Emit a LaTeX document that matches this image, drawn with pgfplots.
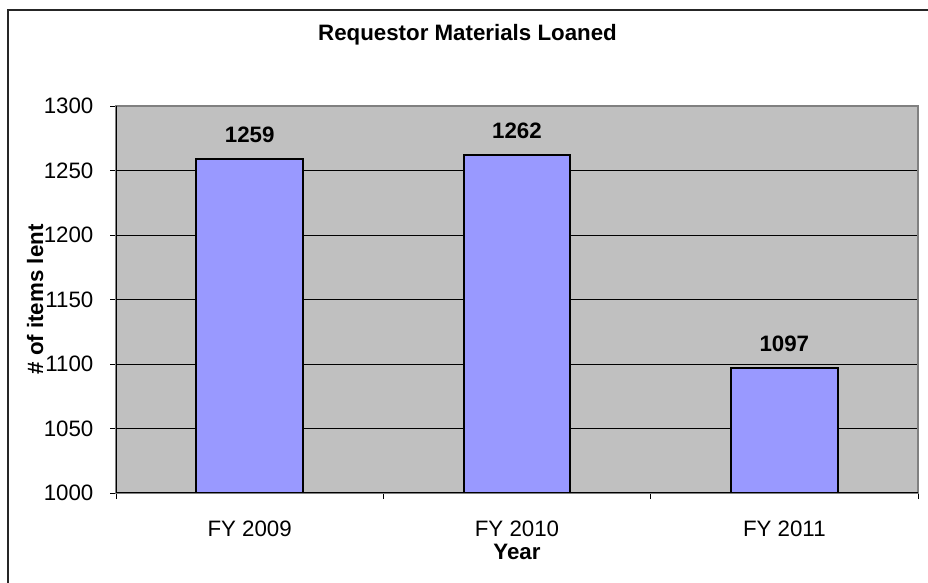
\documentclass[border=0pt]{standalone}
\usepackage{pgfplots}
\pgfplotsset{compat=1.18}
\usepackage{fontspec}
\setmainfont{Liberation Sans}
\definecolor{plotbg}{HTML}{C0C0C0}
\definecolor{barfill}{HTML}{9999FF}
\newcommand{\chartfont}{\fontsize{22.3}{26}\selectfont}
\begin{document}
\begin{tikzpicture}[x=1pt,y=1pt]
\chartfont
\useasboundingbox (0,0) rectangle (928,583);
\draw[line width=1.5pt, black!85] (8,-5) -- (8,573) -- (935,573);
\begin{axis}[
  at={(116pt,90pt)}, anchor=south west,
  scale only axis, width=802pt, height=387pt,
  xmin=-0.5, xmax=2.5, ymin=1000, ymax=1300,
  ytick={1000,1050,...,1300},
  xtick={0,1,2}, xticklabels={FY 2009,FY 2010,FY 2011},
  minor xtick={-0.5,0.5,1.5,2.5},
  major tick length=6pt, minor tick length=6pt,
  tick align=outside, tick pos=left,
  major x tick style={draw=none},
  tick style={black, line width=0.8pt},
  ymajorgrids, major grid style={black, line width=0.8pt},
  axis background/.style={fill=plotbg},
  axis line style={draw=gray, line width=1.2pt},
  ticklabel style={font=\chartfont},
  yticklabel style={xshift=-9pt},
  xticklabel style={yshift=-14pt},
  /pgf/number format/assume math mode=true,
  /pgf/number format/1000 sep={},
  title={Requestor Materials Loaned},
  title style={font=\chartfont\bfseries, at={(axis description cs:0.4383,1.1525)}, anchor=base},
  xlabel={Year},
  xlabel style={font=\chartfont\bfseries, at={(axis description cs:0.5,-0.1731)}, anchor=base},
  ylabel={\# of items lent},
  ylabel style={font=\chartfont\bfseries, at={(axis description cs:-0.0910,0.5)}, anchor=base},
  clip=true,
]
\addplot[ybar, bar width=0.4, fill=barfill, draw=black, line width=2pt,
  nodes near coords,
  nodes near coords style={font=\chartfont\bfseries, yshift=8pt},
  point meta=explicit symbolic]
  coordinates {(0,1259) [1259] (1,1262) [1262] (2,1097) [1097]};
\draw[black, line width=1.2pt] (rel axis cs:0,1) -- (rel axis cs:0,0) -- (rel axis cs:1,0);
\end{axis}
\end{tikzpicture}
\end{document}
